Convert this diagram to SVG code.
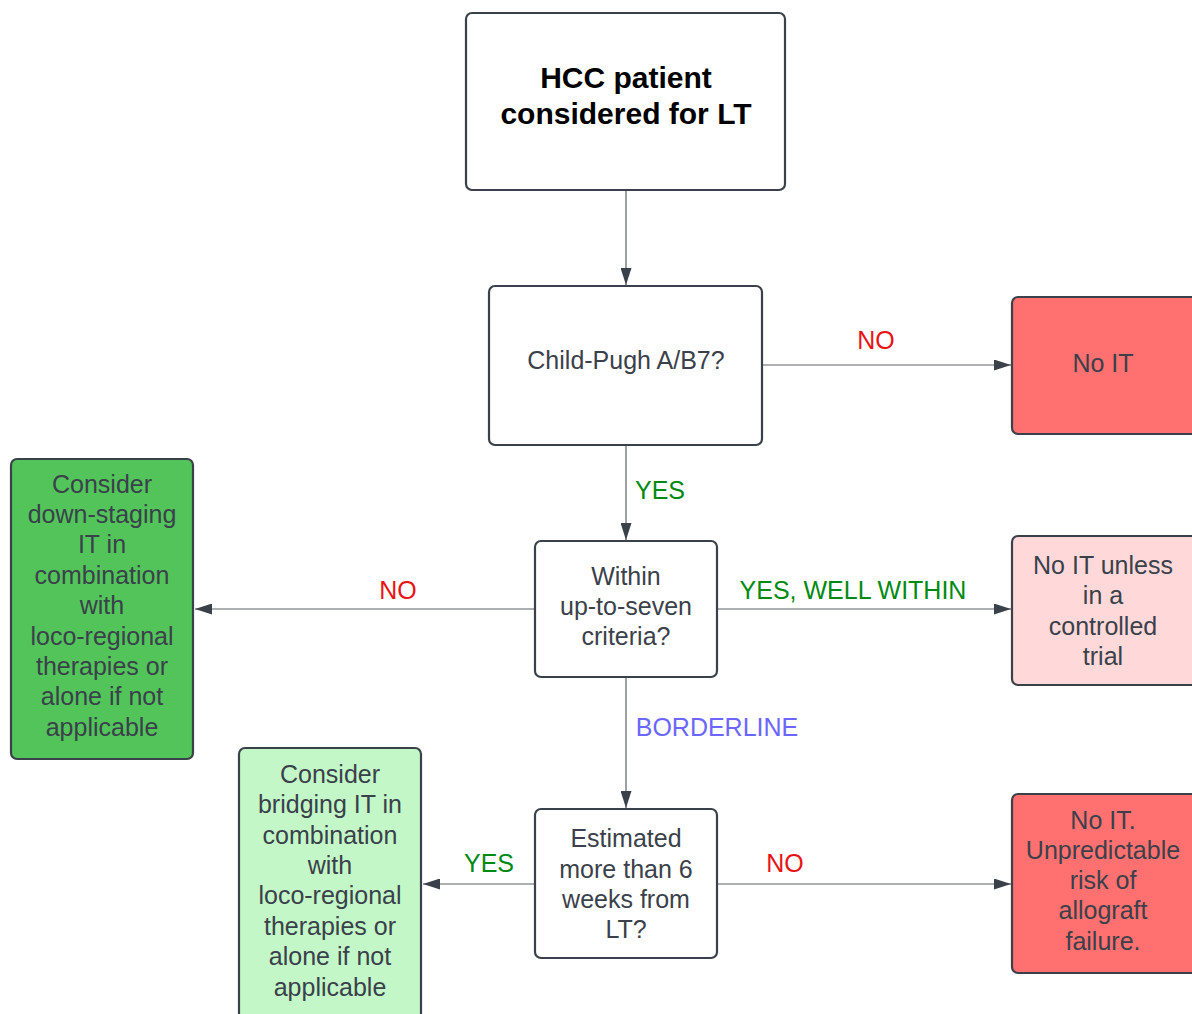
<svg xmlns="http://www.w3.org/2000/svg" width="1192" height="1014" viewBox="0 0 1192 1014">
<style>
.box{stroke:#3a414a;stroke-width:2.2}
.t{font-family:"Liberation Sans",Arial,sans-serif;font-size:25px;fill:#3a414a;text-anchor:middle}
.b{font-family:"Liberation Sans",Arial,sans-serif;font-size:30px;font-weight:bold;fill:#000;text-anchor:middle}
.lbl{font-family:"Liberation Sans",Arial,sans-serif;font-size:25px;text-anchor:middle}
.red{fill:#e81414}.grn{fill:#008a12}.blu{fill:#6b66ff}
.c{stroke:#5c6168;stroke-width:1.2;fill:none}
</style>
<defs>
<marker id="ah" viewBox="0 0 17 11" refX="17" refY="5.5" markerWidth="17" markerHeight="11" markerUnits="userSpaceOnUse" orient="auto">
<path d="M0,0 L17,5.5 L0,11 z" fill="#3a414a"/>
</marker>
</defs>
<rect width="1192" height="1014" fill="#fff"/>
<g id="connectors">
<line class="c" x1="626" y1="191" x2="626" y2="285" marker-end="url(#ah)"/>
<line class="c" x1="763" y1="365" x2="1011" y2="365" marker-end="url(#ah)"/>
<line class="c" x1="626" y1="446" x2="626" y2="540" marker-end="url(#ah)"/>
<line class="c" x1="534" y1="609" x2="195" y2="609" marker-end="url(#ah)"/>
<line class="c" x1="718" y1="609" x2="1011" y2="609" marker-end="url(#ah)"/>
<line class="c" x1="626" y1="678" x2="626" y2="808" marker-end="url(#ah)"/>
<line class="c" x1="534" y1="884" x2="423" y2="884" marker-end="url(#ah)"/>
<line class="c" x1="718" y1="884" x2="1011" y2="884" marker-end="url(#ah)"/>
<text class="lbl red" x="876" y="349">NO</text>
<text class="lbl grn" x="660" y="499">YES</text>
<text class="lbl red" x="398" y="599">NO</text>
<text class="lbl grn" x="853" y="599">YES, WELL WITHIN</text>
<text class="lbl blu" x="717" y="736">BORDERLINE</text>
<text class="lbl grn" x="489" y="872">YES</text>
<text class="lbl red" x="785" y="872">NO</text>
</g>
<g id="start">
<rect class="box" x="466" y="13" width="319" height="177" rx="6" fill="#fff"/>
<text class="b" x="626" y="88">HCC patient</text>
<text class="b" x="626" y="124">considered for LT</text>
</g>
<g id="childpugh">
<rect class="box" x="489" y="286" width="273" height="159" rx="6" fill="#fff"/>
<text class="t" x="626" y="369">Child-Pugh A/B7?</text>
</g>
<g id="noit1">
<rect class="box" x="1012" y="297" width="186" height="137" rx="6" fill="#ff7070"/>
<text class="t" x="1103" y="372">No IT</text>
</g>
<g id="uptoseven">
<rect class="box" x="535" y="541" width="182" height="136" rx="6" fill="#fff"/>
<text class="t" x="626" y="585">Within</text>
<text class="t" x="626" y="615">up-to-seven</text>
<text class="t" x="626" y="645">criteria?</text>
</g>
<g id="downstaging">
<rect class="box" x="11" y="459" width="182" height="300" rx="6" fill="#52c45a"/>
<text class="t" x="102" y="493">Consider</text>
<text class="t" x="102" y="523">down-staging</text>
<text class="t" x="102" y="553">IT in</text>
<text class="t" x="102" y="584">combination</text>
<text class="t" x="102" y="614">with</text>
<text class="t" x="102" y="645">loco-regional</text>
<text class="t" x="102" y="675">therapies or</text>
<text class="t" x="102" y="705">alone if not</text>
<text class="t" x="102" y="736">applicable</text>
</g>
<g id="controlledtrial">
<rect class="box" x="1012" y="536" width="186" height="149" rx="6" fill="#ffd9d9"/>
<text class="t" x="1103" y="574">No IT unless</text>
<text class="t" x="1103" y="604">in a</text>
<text class="t" x="1103" y="635">controlled</text>
<text class="t" x="1103" y="665">trial</text>
</g>
<g id="sixweeks">
<rect class="box" x="535" y="809" width="182" height="149" rx="6" fill="#fff"/>
<text class="t" x="626" y="847">Estimated</text>
<text class="t" x="626" y="878">more than 6</text>
<text class="t" x="626" y="908">weeks from</text>
<text class="t" x="626" y="938">LT?</text>
</g>
<g id="bridging">
<rect class="box" x="239" y="748" width="182" height="280" rx="6" fill="#c3f7c8"/>
<text class="t" x="330" y="783">Consider</text>
<text class="t" x="330" y="813">bridging IT in</text>
<text class="t" x="330" y="844">combination</text>
<text class="t" x="330" y="874">with</text>
<text class="t" x="330" y="904">loco-regional</text>
<text class="t" x="330" y="935">therapies or</text>
<text class="t" x="330" y="965">alone if not</text>
<text class="t" x="330" y="996">applicable</text>
</g>
<g id="noit2">
<rect class="box" x="1012" y="794" width="186" height="179" rx="6" fill="#ff7070"/>
<text class="t" x="1103" y="829">No IT.</text>
<text class="t" x="1103" y="859">Unpredictable</text>
<text class="t" x="1103" y="889">risk of</text>
<text class="t" x="1103" y="919">allograft</text>
<text class="t" x="1103" y="950">failure.</text>
</g>
</svg>
